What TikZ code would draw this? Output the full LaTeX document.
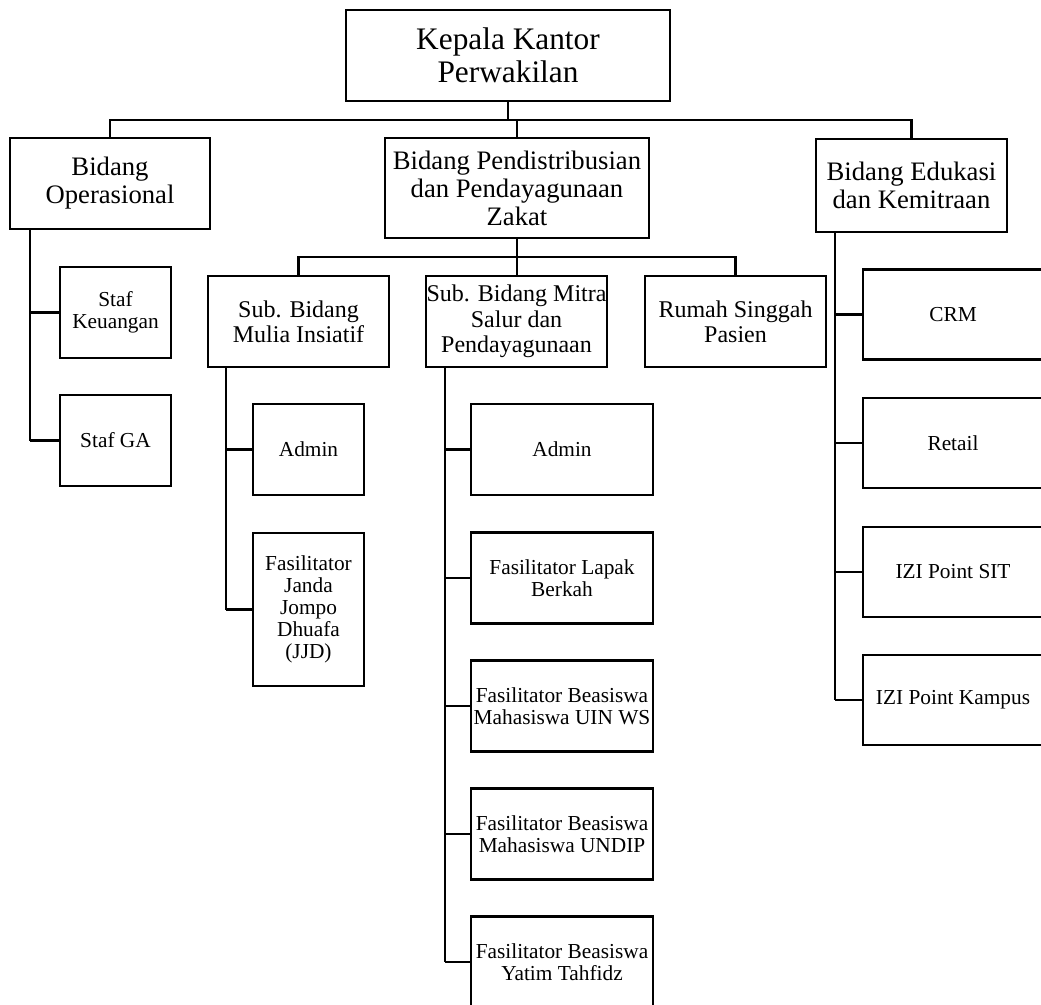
\documentclass[tikz,border=0pt]{standalone}
\usepackage{fontspec}
\setmainfont{Liberation Serif}
\usetikzlibrary{positioning}

\tikzset{
  unit/.style={draw, line width=1.6pt, align=center, inner sep=0pt},
  headfont/.style={font=\fontsize{23.5}{24.5}\selectfont},
  bidfont/.style={font=\fontsize{20}{21}\selectfont},
  subfont/.style={font=\fontsize{18}{19}\selectfont},
  staffont/.style={font=\fontsize{16}{16.5}\selectfont},
  link/.style={line width=1.6pt},
}

\begin{document}
\begin{tikzpicture}[x=0.75pt,y=-0.75pt]
  \useasboundingbox (0,0) rectangle (1041,1004);

  % pimpinan dan bidang
  \node[unit,headfont,minimum width=243pt,minimum height=68.25pt] (kepala) at (508,55.5) {Kepala Kantor\\Perwakilan};
  \node[unit,bidfont,minimum width=150pt,minimum height=68.25pt] (ops) at (110,183.5) {Bidang\\Operasional};
  \node[unit,bidfont,minimum width=198pt,minimum height=75pt] (pend) at (517,188) {Bidang Pendistribusian\\dan Pendayagunaan\\Zakat};
  \node[unit,bidfont,minimum width=143.25pt,minimum height=69.75pt] (edu) at (911.5,185.5) {Bidang Edukasi\\dan Kemitraan};

  % sub bidang
  \node[unit,subfont,minimum width=135.75pt,minimum height=68.25pt] (mulia) at (298.5,321.5) {Sub. Bidang\\Mulia Insiatif};
  \node[unit,subfont,minimum width=135.75pt,minimum height=68.25pt] (mitra) at (516.5,321.5) {Sub. Bidang Mitra\\Salur dan\\Pendayagunaan};
  \node[unit,subfont,minimum width=135.75pt,minimum height=68.25pt] (rumah) at (735.5,321.5) {Rumah Singgah\\Pasien};

  % staf operasional
  \node[unit,staffont,minimum width=83.25pt,minimum height=68.25pt] (keu) at (115.5,312.5) {Staf\\Keuangan};
  \node[unit,staffont,minimum width=83.25pt,minimum height=68.25pt] (ga) at (115.5,440.5) {Staf GA};

  % staf mulia insiatif
  \node[unit,staffont,minimum width=83.25pt,minimum height=68.25pt] (muadmin) at (308.5,449.5) {Admin};
  \node[unit,staffont,minimum width=83.25pt,minimum height=114.75pt] (jjd) at (308.5,609.5) {Fasilitator\\Janda\\Jompo\\Dhuafa\\(JJD)};

  % staf mitra salur
  \node[unit,staffont,minimum width=136.5pt,minimum height=68.25pt] (mtadmin) at (562,449.5) {Admin};
  \node[unit,staffont,minimum width=136.5pt,minimum height=68.25pt] (lapak) at (562,578) {Fasilitator Lapak\\Berkah};
  \node[unit,staffont,minimum width=136.5pt,minimum height=68.25pt] (uin) at (562,706) {Fasilitator Beasiswa\\Mahasiswa UIN WS};
  \node[unit,staffont,minimum width=136.5pt,minimum height=68.25pt] (undip) at (562,834) {Fasilitator Beasiswa\\Mahasiswa UNDIP};
  \node[unit,staffont,minimum width=136.5pt,minimum height=68.25pt] (yatim) at (562,962) {Fasilitator Beasiswa\\Yatim Tahfidz};

  % staf edukasi
  \node[unit,staffont,minimum width=135pt,minimum height=67.5pt] (crm) at (953,314.5) {CRM};
  \node[unit,staffont,minimum width=135pt,minimum height=67.5pt] (retail) at (953,443) {Retail};
  \node[unit,staffont,minimum width=135pt,minimum height=67.5pt] (sit) at (953,572) {IZI Point SIT};
  \node[unit,staffont,minimum width=135pt,minimum height=67.5pt] (kampus) at (953,700) {IZI Point Kampus};

  % garis
  \coordinate (topbus) at (0,120);
  \coordinate (subbus) at (0,257);
  \coordinate (opstrunk) at (30,0);
  \coordinate (muliatrunk) at (226,0);
  \coordinate (mitratrunk) at (445,0);
  \coordinate (edutrunk) at (835,0);

  \draw[link] (kepala.south) -- (kepala.south |- topbus);
  \draw[link] (ops.north) -- (ops.north |- topbus) -| (edu.north);
  \draw[link] (pend.north |- topbus) -- (pend.north);
  \draw[link] (pend.south) -- (pend.south |- mitra.north);
  \draw[link] (mulia.north) -- (mulia.north |- subbus) -| (rumah.north);

  \draw[link] (opstrunk |- ops.south) -- (opstrunk |- ga);
  \foreach \s in {keu,ga} {\draw[link] (opstrunk |- \s) -- (\s.west);}
  \draw[link] (muliatrunk |- mulia.south) -- (muliatrunk |- jjd);
  \foreach \s in {muadmin,jjd} {\draw[link] (muliatrunk |- \s) -- (\s.west);}
  \draw[link] (mitratrunk |- mitra.south) -- (mitratrunk |- yatim);
  \foreach \s in {mtadmin,lapak,uin,undip,yatim} {\draw[link] (mitratrunk |- \s) -- (\s.west);}
  \draw[link] (edutrunk |- edu.south) -- (edutrunk |- kampus);
  \foreach \s in {crm,retail,sit,kampus} {\draw[link] (edutrunk |- \s) -- (\s.west);}
\end{tikzpicture}
\end{document}
